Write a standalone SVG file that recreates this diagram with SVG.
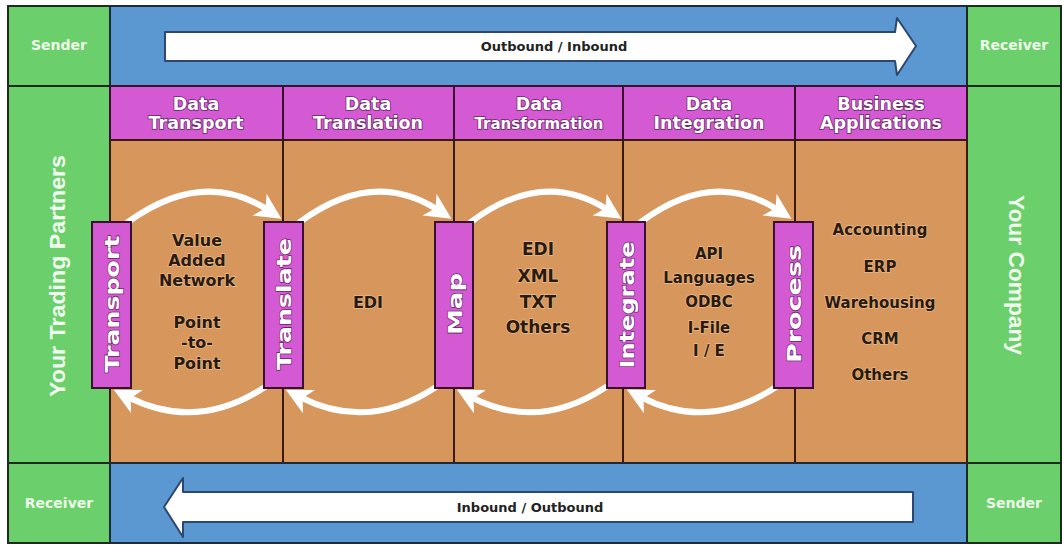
<svg xmlns="http://www.w3.org/2000/svg" width="1064" height="545" viewBox="0 0 1064 545">
  <defs>
    <style>
      .green { fill: #6bcf6b; stroke: #1d2a1d; stroke-width: 2; }
      .blue { fill: #5b97d0; stroke: #1d2a3a; stroke-width: 2; }
      .head { fill: #d45ad4; stroke: #3a1030; stroke-width: 2; }
      .body { fill: #d6965c; stroke: #3a1a10; stroke-width: 2; }
      .bar { fill: #d45ad4; stroke: #3a1030; stroke-width: 2; }
      .big { fill: #ffffff; stroke: #2c4870; stroke-width: 2; stroke-linejoin: round; }
      .side { font-family: "DejaVu Sans", "Liberation Sans", sans-serif; font-weight: bold; font-size: 14px; fill: #eef9ea; text-anchor: middle; }
      .flow { font-family: "DejaVu Sans", "Liberation Sans", sans-serif; font-weight: bold; font-size: 13px; fill: #222222; text-anchor: middle; }
      .htxt { font-family: "DejaVu Sans", "Liberation Sans", sans-serif; font-weight: bold; font-size: 17.5px; fill: #ffffff; text-anchor: middle; paint-order: stroke; stroke: #6a2466; stroke-width: 1.6; }
      .btxt { font-family: "DejaVu Sans", "Liberation Sans", sans-serif; font-weight: bold; font-size: 16px; fill: #2a1a0e; text-anchor: middle; paint-order: stroke; stroke: #eab98a; stroke-width: 1.5; }
      .vtxt { font-family: "DejaVu Sans", "Liberation Sans", sans-serif; font-weight: bold; font-size: 19px; fill: #ffffff; text-anchor: middle; dominant-baseline: central; paint-order: stroke; stroke: #6a2466; stroke-width: 1.2; }
      .party { font-family: "Liberation Sans", Arial, sans-serif; font-weight: bold; font-size: 22px; fill: #f2fbef; text-anchor: middle; dominant-baseline: central; }
      .arc { fill: none; stroke: #ffffff; stroke-width: 6; stroke-linecap: round; }
    </style>
    <marker id="tip" markerUnits="userSpaceOnUse" viewBox="-28 -15 32 30" markerWidth="32" markerHeight="30" refX="-16" refY="0" orient="auto">
      <path d="M -26 -13 L 0 0 L -26 13 L -19 0 Z" fill="#ffffff"/>
    </marker>
  </defs>

  <!-- top row: sender / outbound band / receiver -->
  <g id="sender-top">
    <rect class="green" x="8" y="6" width="102" height="80"/>
    <text class="side" x="59" y="50">Sender</text>
  </g>
  <g id="outbound-band">
    <rect class="blue" x="110" y="6" width="857" height="80"/>
    <polygon class="big" points="165,32 895,32 897,18 916,46 897,75 895,61 165,61"/>
    <text class="flow" x="554" y="51">Outbound / Inbound</text>
  </g>
  <g id="receiver-top">
    <rect class="green" x="967" y="6" width="94" height="80"/>
    <text class="side" x="1014" y="50">Receiver</text>
  </g>

  <!-- side columns -->
  <g id="trading-partners">
    <rect class="green" x="8" y="86" width="102" height="377"/>
    <text class="party" transform="translate(57,276) rotate(-90)" textLength="242" lengthAdjust="spacingAndGlyphs">Your Trading Partners</text>
  </g>
  <g id="your-company">
    <rect class="green" x="967" y="86" width="94" height="377"/>
    <text class="party" transform="translate(1016,275) rotate(90)" textLength="160" lengthAdjust="spacingAndGlyphs">Your Company</text>
  </g>

  <!-- stage columns -->
  <g id="col-transport">
    <rect class="head" x="110" y="86" width="173" height="54"/>
    <rect class="body" x="110" y="140" width="173" height="323"/>
    <text class="htxt" x="196" y="110">Data</text>
    <text class="htxt" x="196" y="129">Transport</text>
    <text class="btxt" x="197" y="246">Value</text>
    <text class="btxt" x="197" y="266">Added</text>
    <text class="btxt" x="197" y="286">Network</text>
    <text class="btxt" x="197" y="328">Point</text>
    <text class="btxt" x="197" y="348">-to-</text>
    <text class="btxt" x="197" y="369">Point</text>
  </g>
  <g id="col-translation">
    <rect class="head" x="283" y="86" width="171" height="54"/>
    <rect class="body" x="283" y="140" width="171" height="323"/>
    <text class="htxt" x="368" y="110">Data</text>
    <text class="htxt" x="368" y="129">Translation</text>
    <text class="btxt" x="368" y="308">EDI</text>
  </g>
  <g id="col-transformation">
    <rect class="head" x="454" y="86" width="169" height="54"/>
    <rect class="body" x="454" y="140" width="169" height="323"/>
    <text class="htxt" x="539" y="110">Data</text>
    <text class="htxt" x="539" y="129" style="font-size:15px">Transformation</text>
    <text class="btxt" x="538" y="255" style="font-size:17px">EDI</text>
    <text class="btxt" x="538" y="282" style="font-size:17px">XML</text>
    <text class="btxt" x="538" y="308" style="font-size:17px">TXT</text>
    <text class="btxt" x="538" y="333" style="font-size:17px">Others</text>
  </g>
  <g id="col-integration">
    <rect class="head" x="623" y="86" width="172" height="54"/>
    <rect class="body" x="623" y="140" width="172" height="323"/>
    <text class="htxt" x="709" y="110">Data</text>
    <text class="htxt" x="709" y="129">Integration</text>
    <text class="btxt" x="709" y="259" style="font-size:15px">API</text>
    <text class="btxt" x="709" y="283" style="font-size:15px">Languages</text>
    <text class="btxt" x="709" y="307" style="font-size:15px">ODBC</text>
    <text class="btxt" x="709" y="333" style="font-size:15px">I-File</text>
    <text class="btxt" x="709" y="356" style="font-size:15px">I / E</text>
  </g>
  <g id="col-applications">
    <rect class="head" x="795" y="86" width="172" height="54"/>
    <rect class="body" x="795" y="140" width="172" height="323"/>
    <text class="htxt" x="881" y="110">Business</text>
    <text class="htxt" x="881" y="129">Applications</text>
    <text class="btxt" x="880" y="235" style="font-size:15px">Accounting</text>
    <text class="btxt" x="880" y="272" style="font-size:15px">ERP</text>
    <text class="btxt" x="880" y="308" style="font-size:15px">Warehousing</text>
    <text class="btxt" x="880" y="344" style="font-size:15px">CRM</text>
    <text class="btxt" x="880" y="380" style="font-size:15px">Others</text>
  </g>

  <!-- connectors: forward arcs over the top, return arcs underneath -->
  <g id="connectors">
    <path class="arc" d="M128,222 Q203,168 268,210" marker-end="url(#tip)"/>
    <path class="arc" d="M300,222 Q373,168 438,210" marker-end="url(#tip)"/>
    <path class="arc" d="M471,222 Q543,168 608,210" marker-end="url(#tip)"/>
    <path class="arc" d="M641,222 Q713,168 778,210" marker-end="url(#tip)"/>
    <path class="arc" d="M265,387 Q197,432 128,397" marker-end="url(#tip)"/>
    <path class="arc" d="M436,387 Q368,432 300,397" marker-end="url(#tip)"/>
    <path class="arc" d="M606,387 Q538,432 471,397" marker-end="url(#tip)"/>
    <path class="arc" d="M776,387 Q708,432 641,397" marker-end="url(#tip)"/>
  </g>

  <!-- stage bars -->
  <g id="bar-transport">
    <rect class="bar" x="92" y="222" width="39" height="166"/>
    <text class="vtxt" transform="translate(112,304) rotate(-90)" textLength="137" lengthAdjust="spacingAndGlyphs">Transport</text>
  </g>
  <g id="bar-translate">
    <rect class="bar" x="264" y="222" width="39" height="166"/>
    <text class="vtxt" transform="translate(284,304) rotate(-90)" textLength="132" lengthAdjust="spacingAndGlyphs">Translate</text>
  </g>
  <g id="bar-map">
    <rect class="bar" x="435" y="222" width="38" height="166"/>
    <text class="vtxt" transform="translate(455,304) rotate(-90)" textLength="62" lengthAdjust="spacingAndGlyphs">Map</text>
  </g>
  <g id="bar-integrate">
    <rect class="bar" x="607" y="222" width="38" height="166"/>
    <text class="vtxt" transform="translate(627,305) rotate(-90)" textLength="127" lengthAdjust="spacingAndGlyphs">Integrate</text>
  </g>
  <g id="bar-process">
    <rect class="bar" x="774" y="222" width="39" height="166"/>
    <text class="vtxt" transform="translate(794,304) rotate(-90)" textLength="118" lengthAdjust="spacingAndGlyphs">Process</text>
  </g>

  <!-- bottom row: receiver / inbound band / sender -->
  <g id="receiver-bottom">
    <rect class="green" x="8" y="463" width="102" height="80"/>
    <text class="side" x="59" y="508">Receiver</text>
  </g>
  <g id="inbound-band">
    <rect class="blue" x="110" y="463" width="857" height="80"/>
    <polygon class="big" points="913,492 183,492 183,478 164,507 183,537 183,522 913,522"/>
    <text class="flow" x="530" y="512">Inbound / Outbound</text>
  </g>
  <g id="sender-bottom">
    <rect class="green" x="967" y="463" width="94" height="80"/>
    <text class="side" x="1014" y="508">Sender</text>
  </g>
</svg>
